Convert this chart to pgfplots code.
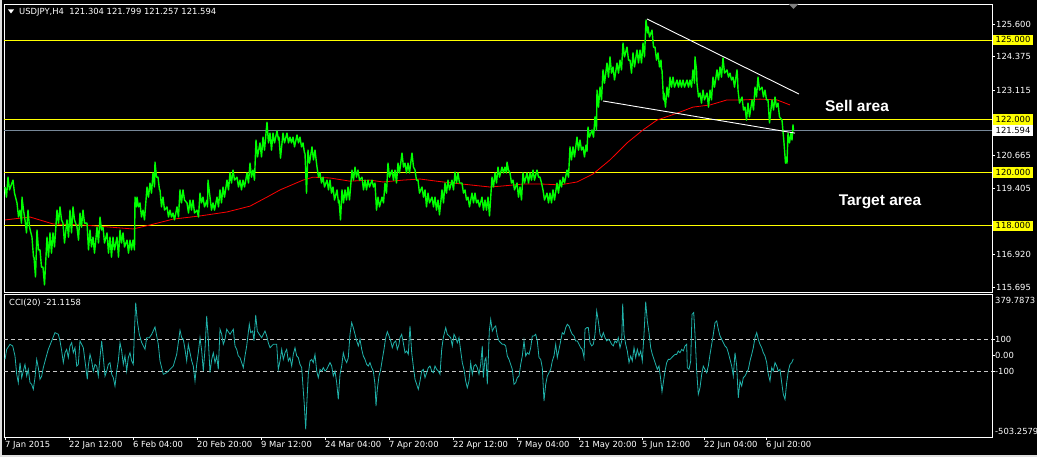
\documentclass[border=0pt]{standalone}
\usepackage{pgfplots}
\pgfplotsset{compat=1.18}
\usepackage{fontspec}
\setmainfont{DejaVu Sans}
\newfontfamily\annfont{Liberation Sans}
\definecolor{mtgreen}{HTML}{00FF00}
\definecolor{mtyellow}{HTML}{FFFF00}
\definecolor{mtgray}{HTML}{778899}
\definecolor{mtcci}{HTML}{20B2AA}
\definecolor{mtdash}{HTML}{C8C8C8}
\definecolor{mtred}{HTML}{FF0000}
\newcommand\tfont{\fontsize{8.4}{9.5}\selectfont}
\tikzset{pricebox/.style={text=black, font=\tfont, anchor=west, inner xsep=3pt, inner ysep=0.5pt, minimum height=10.5pt}}
\begin{document}
\begin{tikzpicture}
\useasboundingbox (0pt,0pt) rectangle (1037pt,457pt);
\fill[black] (0pt,0pt) rectangle (1037pt,457pt);
\fill[white!75!gray] (0pt,0pt) rectangle (2pt,457pt);
\fill[white!75!gray] (0pt,0pt) rectangle (1037pt,1.5pt);
% ---------------- main price panel ----------------
\begin{axis}[
  at={(4pt,165pt)}, anchor=south west, scale only axis,
  width=988pt, height=288pt,
  xmin=4, xmax=992, ymin=115.506, ymax=126.353,
  axis line style={white, line width=0.8pt},
  xtick=\empty,
  ytick pos=right, yticklabel pos=right,
  ytick={115.695,116.920,119.405,120.665,123.115,124.375,125.600},
  yticklabels={115.695,116.920,119.405,120.665,123.115,124.375,125.600},
  yticklabel style={font=\tfont, text=white, anchor=west, inner sep=0pt, xshift=1pt},
  major tick length=3pt, tick align=outside,
  tick style={white, line width=0.6pt},
  clip=false,
]
\addplot[mtyellow, line width=0.8pt] coordinates {(4,125) (992,125)};
\addplot[mtyellow, line width=0.8pt] coordinates {(4,122) (992,122)};
\addplot[mtgray, line width=0.8pt] coordinates {(4,121.594) (992,121.594)};
\addplot[mtyellow, line width=0.8pt] coordinates {(4,120) (992,120)};
\addplot[mtyellow, line width=0.8pt] coordinates {(4,118) (992,118)};
% moving average
\addplot[mtred, line width=0.8pt] coordinates {
(5,118.22) (30,118.33) (53,118.07) (83,118.03) (110,117.95) (133,117.88) (150,118.03) (173,118.25) (200,118.37) (227,118.52) (250,118.74) (267,119.08) (280,119.35) (303,119.72) (313,119.83) (330,119.80) (350,119.68) (370,119.72) (383,119.65) (403,119.72) (420,119.76) (443,119.65) (470,119.54) (490,119.46) (503,119.50) (523,119.57) (543,119.57) (560,119.54) (577,119.65) (593,119.95) (610,120.48) (627,121.12) (643,121.61) (657,121.98) (677,122.24) (693,122.47) (710,122.55) (727,122.74) (743,122.74) (760,122.77) (777,122.74) (790,122.55)};
% price (high/low of the bars)
\addplot[mtgreen, line width=1.4pt, line join=round] coordinates {
(5,119.46) (6.5,119.08) (8,119.83) (9.5,119.35) (13,119.72) (14.5,119.23) (17,118.86) (18.5,118.33) (20,118.59) (21.5,118.10) (22,119.08) (23.5,118.59) (25,118.22) (26.5,117.73) (28,118.59) (29.5,117.95) (32,117.57) (33.5,116.82) (34,116.82) (35.5,116.07) (37,117.84) (38.5,117.09) (40,117.09) (41.5,116.44) (43,116.44) (44.5,115.77) (47,117.57) (48.5,116.82) (50,117.73) (51.5,116.97) (53,117.73) (54.5,117.20) (57,118.59) (58.5,118.10) (60,118.71) (61.5,118.22) (63,118.10) (64.5,117.35) (67,118.22) (68.5,117.57) (70,118.59) (71.5,117.73) (73,118.71) (74.5,118.22) (77,117.95) (78.5,117.46) (80,118.48) (81.5,117.95) (83,118.59) (84.5,118.10) (87,118.10) (88.5,117.09) (90,117.84) (91.5,117.20) (93,117.57) (94.5,116.97) (97,117.95) (98.5,117.35) (100,118.33) (101.5,117.84) (103,117.95) (104.5,117.35) (107,117.73) (108.5,116.97) (110,117.57) (111.5,116.82) (113,117.57) (114.5,117.09) (117,117.57) (118.5,116.82) (120,117.84) (121.5,117.35) (123,117.73) (124.5,117.20) (127,117.46) (128.5,116.97) (130,117.46) (131.5,117.09) (133,117.46) (134.5,117.09) (135,119.08) (136.5,118.71) (137,119.08) (138.5,118.71) (140,118.86) (141.5,118.33) (143,118.59) (144.5,118.22) (147,119.46) (148.5,119.08) (150,119.61) (151.5,119.23) (153,119.99) (154.5,119.46) (155,120.40) (156.5,119.83) (158,119.83) (159.5,119.35) (160,119.35) (161.5,118.71) (163,119.08) (164.5,118.59) (167,118.71) (168.5,118.33) (170,118.59) (171.5,118.33) (173,118.48) (174.5,118.22) (177,118.71) (178.5,118.33) (180,119.35) (181.5,118.86) (183,119.35) (184.5,118.97) (187,118.86) (188.5,118.48) (190,118.97) (191.5,118.59) (193,118.97) (194.5,118.48) (197,118.59) (198.5,118.33) (200,119.23) (201.5,118.86) (203,119.08) (204.5,118.71) (207,118.97) (207.5,118.71) (208,119.72) (209.5,119.23) (210,119.08) (211.5,118.59) (213,118.86) (214.5,118.59) (217,119.08) (218.5,118.71) (220,119.35) (221.5,118.86) (223,119.46) (224.5,119.08) (227,119.72) (228.5,119.35) (230,119.99) (231.5,119.61) (233,120.10) (234.5,119.72) (237,119.83) (238.5,119.46) (240,119.72) (241.5,119.35) (243,119.72) (244.5,119.46) (247,119.99) (248.5,119.61) (250,120.36) (251.5,119.83) (253,120.10) (254.5,119.72) (256,121.23) (257.5,120.59) (260,121.12) (261.5,120.59) (263,121.34) (264.5,120.85) (267,121.90) (268.5,121.12) (270,121.49) (271.5,120.85) (273,121.49) (274.5,121.12) (277,121.57) (278.5,121.23) (279,121.34) (280.5,120.55) (283,121.49) (284.5,121.12) (287,121.49) (288.5,121.12) (290,121.34) (291.5,121.12) (293,121.34) (294.5,120.97) (297,121.42) (298.5,121.12) (300,121.34) (301.5,120.97) (303,121.12) (304.5,120.74) (305,120.74) (306.5,119.23) (308,120.85) (309.5,120.36) (312,120.97) (313.5,120.48) (315,120.85) (316.5,120.36) (317,120.21) (318.5,119.83) (320,119.99) (321.5,119.61) (323,119.83) (324.5,119.46) (327,119.72) (328.5,119.35) (330,119.72) (331.5,119.23) (333,119.46) (334.5,118.97) (337,119.35) (338.5,118.86) (339,118.97) (340.5,118.22) (342,119.35) (343.5,118.86) (345,119.35) (346.5,118.97) (348,119.46) (349.5,118.97) (352,120.10) (353.5,119.72) (355,120.21) (356.5,119.83) (358,120.10) (359.5,119.72) (362,119.83) (363.5,119.35) (365,119.72) (366.5,119.35) (368,119.72) (369.5,119.46) (372,119.72) (373.5,119.46) (375,119.61) (376.5,118.59) (378,119.08) (379.5,118.71) (382,119.08) (383.5,118.86) (385,119.61) (386.5,119.23) (388,120.36) (389.5,119.83) (392,120.10) (393.5,119.72) (395,120.10) (396.5,119.61) (398,120.36) (399.5,119.99) (402,120.74) (403.5,120.21) (405,120.36) (406.5,119.99) (408,120.36) (409.5,119.99) (412,120.74) (413.5,120.21) (415,120.10) (416.5,119.72) (418,119.72) (419.5,119.23) (422,119.46) (423.5,119.08) (425,119.35) (426.5,118.71) (428,119.23) (429.5,118.86) (432,119.08) (433.5,118.71) (435,119.08) (436.5,118.59) (438,118.97) (439.5,118.41) (442,119.35) (443.5,118.86) (445,119.61) (446.5,119.23) (448,119.72) (449.5,119.35) (452,119.72) (453.5,119.35) (455,120.02) (456.5,119.61) (458,119.99) (459.5,119.61) (462,119.61) (463.5,119.23) (465,119.35) (466.5,118.97) (468,119.08) (469.5,118.71) (472,119.23) (473.5,118.86) (475,119.23) (476.5,118.86) (478,118.97) (479.5,118.71) (482,119.08) (483.5,118.59) (485,118.97) (486.5,118.59) (488,119.08) (489.5,118.37) (492,119.83) (493.5,119.46) (495,119.99) (496.5,119.61) (498,120.21) (499.5,119.83) (502,120.21) (503.5,119.99) (505,120.21) (506.5,119.99) (507,120.40) (508.5,120.10) (510,119.99) (511.5,119.61) (513,119.72) (514.5,119.35) (517,119.61) (518.5,119.08) (520,119.46) (521.5,118.97) (523,119.99) (524.5,119.61) (527,119.99) (528.5,119.61) (530,119.99) (531.5,119.72) (533,120.10) (534.5,119.72) (537,120.10) (538.5,119.83) (540,119.83) (541.5,119.61) (543,119.35) (544.5,118.97) (547,119.23) (548.5,118.86) (550,119.23) (551.5,118.86) (553,119.35) (554.5,118.97) (557,119.61) (558.5,119.23) (560,119.72) (561.5,119.46) (563,119.83) (564.5,119.61) (567,120.10) (568.5,119.83) (570,120.97) (571.5,120.48) (573,120.97) (574.5,120.59) (577,121.34) (578.5,120.85) (580,121.23) (581.5,120.85) (583,120.97) (584.5,120.59) (586,121.04) (587,120.80) (588,121.72) (589.5,121.34) (592,121.61) (593.5,121.34) (595,122.10) (596.5,121.61) (597,123.11) (598.5,122.47) (600,123.22) (601.5,122.74) (603,123.87) (604.5,123.37) (607,124.13) (608.5,123.60) (610,124.36) (611.5,123.75) (613,123.98) (614.5,123.49) (617,124.13) (618.5,123.75) (620,124.24) (621.5,123.87) (623,124.88) (624.5,124.36) (627,124.73) (628.5,124.24) (630,124.24) (631.5,123.75) (633,124.51) (634.5,123.98) (637,124.62) (638.5,124.13) (640,124.62) (641.5,124.13) (643,124.88) (644.5,124.36) (646,125.75) (647.5,125.26) (648,125.49) (649.5,125.11) (652,125.37) (653.5,124.73) (655,124.73) (656.5,124.24) (658,124.51) (659.5,123.98) (661,124.24) (661.5,123.87) (662,123.87) (663.5,122.74) (664,123.00) (665.5,122.47) (667,123.22) (668.5,122.85) (670,123.60) (671.5,123.22) (673,123.60) (674.5,123.22) (677,123.49) (678.5,123.22) (680,123.49) (681.5,123.22) (683,123.49) (684.5,123.22) (687,123.49) (688.5,123.22) (690,123.49) (691.5,123.22) (693,123.87) (694.5,123.37) (695,124.36) (696.5,123.87) (697,123.37) (698.5,122.85) (700,123.00) (701.5,122.62) (703,123.11) (704.5,122.74) (707,123.00) (708.5,122.47) (710,123.11) (711.5,122.74) (713,123.60) (714.5,123.22) (717,123.87) (718.5,123.49) (720,123.98) (721.5,123.60) (723,124.32) (724.5,123.75) (727,123.87) (728.5,123.60) (730,123.75) (731.5,123.49) (733,123.60) (734.5,123.22) (737,123.87) (737.5,123.60) (738,123.11) (739.5,122.62) (742,122.85) (743.5,122.36) (745,122.47) (746.5,121.98) (748,122.62) (749.5,122.10) (752,122.74) (753.5,122.36) (755,123.22) (756.5,122.85) (758,123.60) (759.5,123.11) (762,123.22) (763.5,122.85) (765,123.11) (766.5,122.74) (768,122.74) (769.5,121.87) (772,122.74) (773.5,122.36) (775,122.85) (776.5,122.47) (778,122.62) (779.5,122.10) (782,121.98) (783.5,121.34) (784,121.12) (785.5,120.36) (786,120.59) (787,120.36) (788,121.49) (789.5,121.12) (791,121.49) (792,121.23) (793,121.80) (793.5,121.59)};
% trend lines
\addplot[white, line width=0.9pt] coordinates {(647,125.79) (799,122.96)};
\addplot[white, line width=0.9pt] coordinates {(603,122.70) (795,121.49)};
% price labels on the right
\node[pricebox, fill=mtyellow] at (axis cs:992.5,125) {125.000};
\node[pricebox, fill=mtyellow] at (axis cs:992.5,122) {122.000};
\node[pricebox, fill=white] at (axis cs:992.5,121.594) {121.594};
\node[pricebox, fill=mtyellow] at (axis cs:992.5,120) {120.000};
\node[pricebox, fill=mtyellow] at (axis cs:992.5,118) {118.000};
\end{axis}
% ---------------- CCI panel ----------------
\begin{axis}[
  at={(4pt,20pt)}, anchor=south west, scale only axis,
  width=988pt, height=143pt,
  xmin=4, xmax=992, ymin=-503.2579, ymax=379.7873,
  axis line style={white, line width=0.8pt},
  xtick={5,69,133,197,261,325,389,453,517,579,642,704,766},
  xticklabels={7 Jan 2015,22 Jan 12:00,6 Feb 04:00,20 Feb 20:00,9 Mar 12:00,24 Mar 04:00,7 Apr 20:00,22 Apr 12:00,7 May 04:00,21 May 20:00,5 Jun 12:00,22 Jun 04:00,6 Jul 20:00},
  xtick pos=bottom, xticklabel pos=bottom,
  xticklabel style={font=\tfont, text=white, anchor=north west, inner sep=0pt, yshift=-1pt},
  ytick pos=right, yticklabel pos=right,
  ytick={-100,0,100}, yticklabels={-100,0.00,100},
  yticklabel style={font=\tfont, text=white, anchor=west, inner sep=0pt, xshift=0pt},
  major tick length=3pt, tick align=outside,
  tick style={white, line width=0.6pt},
  clip=false,
]
\addplot[mtdash, line width=0.7pt, dash pattern=on 4pt off 3pt] coordinates {(4,100) (992,100)};
\addplot[mtdash, line width=0.7pt, dash pattern=on 4pt off 3pt] coordinates {(4,-100) (992,-100)};
\addplot[mtcci, line width=0.8pt] coordinates {
(5,-24) (6.7,38) (10,69) (12.7,59) (15,-3) (16.7,-116) (18.3,-168) (20,-44) (21.7,-137) (23.3,-96) (25,-55) (26.7,-127) (28.3,-86) (30,-168) (31.7,-178) (33.3,-209) (35,-137) (36.7,-24) (38.3,-75) (40,-147) (41.7,-127) (43.3,-75) (46,-13) (48.3,38) (51.7,90) (55,141) (58.3,131) (60,90) (61.7,28) (63.3,-44) (65,17) (66.7,38) (68.3,-13) (70,59) (71.7,79) (73.3,17) (75,48) (76.7,-65) (78.3,-55) (80,90) (81.7,69) (83.3,48) (85,-34) (87.3,-147) (88.3,-65) (90,7) (91.7,-34) (93.3,-96) (95,-55) (96.7,-65) (98.3,-127) (100,-13) (101.7,90) (103.3,-13) (105,-127) (106.7,-96) (108.3,-55) (110,-44) (111.7,-116) (113.3,-137) (115,-189) (116.7,-96) (118.3,-34) (120,79) (121.7,28) (123.3,-55) (125,-3) (126.7,-96) (128.3,-13) (130,17) (131.7,-34) (133.3,-55) (134.3,131) (135.7,327) (137.3,213) (139.3,131) (141.7,79) (143.3,59) (145,38) (146.7,110) (149.3,110) (151.7,131) (155,176) (156.7,121) (158.3,69) (160,-34) (163.3,-116) (166.7,-106) (170,-86) (173.3,-65) (176.7,7) (180,156) (181.7,110) (183.3,100) (185,38) (186.7,-34) (188.3,69) (190,17) (191.7,-34) (193.3,-65) (195,-158) (196.7,-55) (198.3,17) (200,110) (201.7,28) (203.3,-96) (205,38) (206.7,244) (208.3,100) (210,-106) (211.7,-24) (213.3,17) (215,-44) (216.7,-3) (218.3,-86) (220,162) (221.7,131) (223.3,69) (225,100) (226.7,162) (230,131) (233.3,162) (235,59) (236.7,38) (238.3,-3) (240,-13) (241.7,-44) (243.3,-75) (245,-3) (246.7,59) (249.3,193) (250.7,141) (252.7,151) (254,90) (255.7,250) (257.3,151) (259.3,131) (261.7,110) (265,151) (266.7,121) (268.3,79) (270,48) (273.3,69) (276.7,69) (278.3,-86) (280,-34) (281.7,38) (283.3,-24) (285,17) (286.7,38) (288.3,-34) (290,-13) (291.7,-65) (293.3,7) (295,48) (296.7,-3) (298.3,-13) (300,-55) (301.7,-75) (303.3,-219) (304.3,-302) (305.7,-456) (306.7,-312) (308.3,-116) (310,-34) (311.7,-24) (313.3,-44) (315,7) (316.7,-96) (318.3,-137) (320,-86) (321.7,-96) (323.3,-75) (325,-96) (326.7,-86) (328.3,-65) (330,-44) (331.7,-65) (333.3,-127) (335,-96) (336.7,-168) (338.3,-271) (340,-116) (341.7,-65) (343.3,17) (345,-24) (346.7,-44) (348.3,-13) (350,131) (351.7,203) (353.3,172) (355,131) (356.7,90) (358.3,59) (360,100) (361.7,38) (363.3,-3) (365,-24) (366.7,-55) (368.3,-65) (370,-44) (371.7,-75) (373.3,-96) (375,-178) (376,-312) (377.3,-209) (379,-127) (380.7,-86) (382.3,-24) (384,38) (385.7,110) (387.3,147) (389,121) (390.7,90) (392.3,48) (394,79) (395.7,90) (397.3,38) (399,69) (400,110) (401.7,131) (403.3,79) (405,17) (406.7,28) (408.3,7) (410,182) (411.7,17) (413.3,-65) (415,-147) (416.7,-178) (418.3,-209) (420,-158) (421.7,-96) (423.3,-86) (425,-137) (426.7,-106) (428.3,-75) (430,-65) (431.7,-96) (433.3,-106) (435,-65) (436.7,-86) (438.3,-96) (440,-116) (441.7,38) (443.3,110) (445.7,172) (447.3,131) (449,121) (450.7,110) (452.3,59) (454,131) (455.7,110) (457.3,79) (459,110) (460.7,28) (462.3,-44) (464,-86) (465.7,-158) (467.3,-199) (469,-158) (470.7,-44) (472.3,-116) (474,-65) (475.7,-55) (477.3,-75) (479,-116) (480.7,-55) (482.3,59) (483.3,-137) (485,-24) (486,-13) (487.3,-178) (488.3,-24) (489.3,151) (490.7,223) (492.3,151) (494,172) (495.7,182) (497.3,121) (499,90) (500.7,79) (502.3,69) (504,69) (505.7,59) (507.3,-3) (509,-24) (510.7,-55) (512.3,-86) (514,-178) (515.7,-168) (517.3,-137) (519,-127) (520.7,-55) (522.3,-3) (524,90) (525.7,-3) (527.3,17) (529,7) (530.7,48) (532.3,121) (534,121) (535.7,131) (537.3,90) (539,-13) (540.7,-24) (542.3,-75) (544,-281) (545.7,-178) (547.3,-127) (549,-106) (550.7,-86) (552.3,-34) (554,-3) (555.7,69) (557.3,-13) (559,38) (560.7,90) (562.3,141) (564,131) (565.7,172) (567.3,193) (569,182) (570.7,151) (572.3,131) (574,121) (575.7,90) (577.3,90) (579,69) (580.7,48) (582.3,38) (584,-13) (585,162) (586.7,172) (588.3,172) (590,79) (591.7,59) (593.3,69) (595,131) (596.7,275) (598.3,213) (600,131) (601.7,110) (603.3,141) (605,110) (606.7,90) (608.3,100) (610,90) (611.7,69) (613.3,59) (615,90) (616.7,79) (618.3,110) (620,48) (621.7,90) (622.7,320) (624,131) (625.7,69) (627.3,28) (629,-44) (630.7,-3) (632.3,-34) (634,48) (635.7,-13) (637.3,38) (639,-3) (640.7,28) (642.3,-34) (644,131) (645.7,333) (647.3,213) (649,141) (650.7,48) (652.3,7) (654,-24) (655.7,-55) (657.3,-86) (659,-65) (660.7,-147) (662,-224) (663.3,-168) (665,-96) (666.7,-44) (668.3,-24) (670,-24) (671.7,-13) (673.3,-3) (675,7) (676.7,7) (678.3,28) (680,17) (681.7,38) (683.3,28) (685,59) (686.7,69) (687.3,-75) (689,-86) (690.7,-34) (692,254) (693.7,265) (695,131) (696.7,-96) (698.3,-240) (700,-199) (701.7,-116) (703.3,-65) (705,-86) (706.7,-106) (708.3,-65) (710,7) (711.7,69) (713.3,131) (715,203) (716.7,213) (718.3,162) (720,121) (721.7,100) (723.3,79) (725,59) (726.7,48) (728.3,17) (730,-24) (731.7,-65) (733.3,-127) (735,17) (736.7,-65) (738.3,-261) (740,-158) (741.7,-189) (743.3,-137) (745,-127) (746.7,-106) (748.3,-86) (750,-34) (751.7,7) (753.3,48) (755,110) (756.7,141) (758.3,100) (760,69) (761.7,48) (763.3,17) (765,-3) (766.7,-44) (768.3,-116) (770,-158) (771.7,-75) (773.3,-96) (775,-44) (776.7,-65) (778.3,-96) (780,-86) (781.7,-168) (783.3,-240) (785,-271) (786.7,-168) (788.3,-96) (790,-55) (791.7,-44) (793.3,-21)};
\node[font=\tfont, text=white, anchor=north west, inner sep=0pt] at ([xshift=3pt,yshift=-3pt]rel axis cs:1,1) {379.7873};
\node[font=\tfont, text=white, anchor=south west, inner sep=0pt] at ([xshift=3pt,yshift=2pt]rel axis cs:1,0) {-503.2579};
\end{axis}
% ---------------- texts ----------------
\fill[white] (8pt,447.5pt) -- (14pt,447.5pt) -- (11pt,443.5pt) -- cycle;
\node[font=\tfont, text=white, anchor=west, inner sep=0pt] at (19pt,445pt) {USDJPY,H4\ \ 121.304 121.799 121.257 121.594};
\node[font=\tfont, text=white, anchor=west, inner sep=0pt] at (9pt,154pt) {CCI(20) -21.1158};
\fill[gray] (788.5pt,453pt) -- (798.5pt,453pt) -- (793.5pt,448pt) -- cycle;
\node[font=\annfont\bfseries\fontsize{15.5}{17}\selectfont, text=white, inner sep=0pt] at (857pt,351pt) {Sell area};
\node[font=\annfont\bfseries\fontsize{15.5}{17}\selectfont, text=white, inner sep=0pt] at (880pt,255pt) {Target area};
\end{tikzpicture}
\end{document}
